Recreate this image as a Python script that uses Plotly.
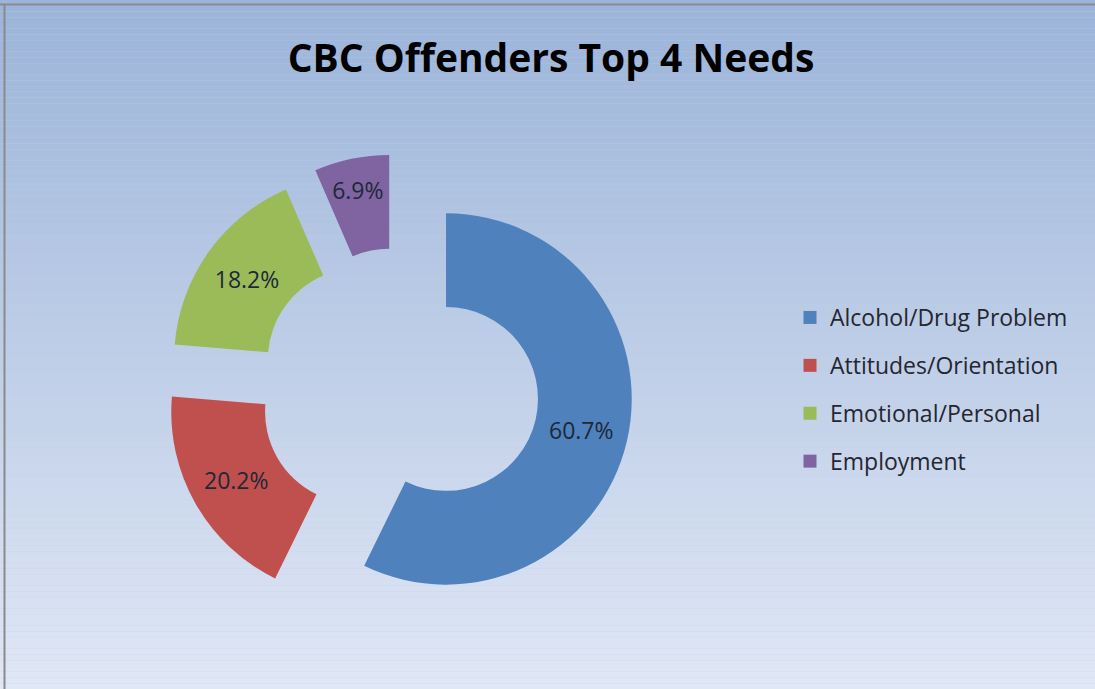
import plotly.graph_objects as go

# ---- data ----
categories = ["Alcohol/Drug Problem", "Attitudes/Orientation", "Emotional/Personal", "Employment"]
values = [60.7, 20.2, 18.2, 6.9]
colors = ["#4f81bd", "#c0504d", "#9bbb59", "#8064a2"]
title_text = "CBC Offenders Top 4 Needs"

W, H = 1095, 689
FONT = "Open Sans, Lato, sans-serif"

fig = go.Figure()

fig.add_trace(go.Pie(
    labels=categories,
    values=values,
    marker=dict(colors=colors, line=dict(width=0)),
    hole=0.495,
    pull=[0.26] * len(values),
    sort=False,
    direction="clockwise",
    rotation=0,
    texttemplate="%{value:.1f}%",
    textposition="inside",
    insidetextorientation="horizontal",
    insidetextfont=dict(family=FONT, size=23, color="#1e2838"),
    domain=dict(x=[165 / W, 633 / W], y=[1 - 622 / H, 1 - 154 / H]),
    showlegend=False,
    hoverinfo="label+value",
))

# legend entries (one group per category to allow row spacing)
for name, col in zip(categories, colors):
    fig.add_trace(go.Scatter(
        x=[None], y=[None], mode="markers", name=name,
        marker=dict(symbol="square", size=13, color=col),
        legendgroup=name, showlegend=True,
    ))

# gradient background bands
n = 120
top = (155, 180, 217)
bot = (224, 231, 245)
shapes = []
for i in range(n):
    t = i / (n - 1)
    c = tuple(round(top[k] + (bot[k] - top[k]) * t) for k in range(3))
    shapes.append(dict(type="rect", xref="paper", yref="paper",
                       x0=0, x1=1, y0=1 - (i + 1) / n, y1=1 - i / n,
                       fillcolor="rgb(%d,%d,%d)" % c, line=dict(width=0), layer="below"))
# border lines (top & left)
shapes.append(dict(type="line", xref="paper", yref="paper", x0=0, x1=1, y0=1 - 4.5 / H, y1=1 - 4.5 / H,
                   line=dict(color="#8a8a8a", width=2), layer="above"))
shapes.append(dict(type="line", xref="paper", yref="paper", x0=4.5 / W, x1=4.5 / W, y0=0, y1=1 - 4.5 / H,
                   line=dict(color="#8a8a8a", width=2), layer="above"))

fig.update_layout(
    width=W, height=H,
    margin=dict(l=0, r=0, t=0, b=0),
    paper_bgcolor="#c0cfe9",
    plot_bgcolor="rgba(0,0,0,0)",
    shapes=shapes,
    title=dict(text="<b>" + title_text + "</b>", x=551 / W, xanchor="center",
               y=1 - 58 / H, yanchor="middle",
               font=dict(family=FONT, size=39, color="#000000")),
    legend=dict(x=790 / W, xanchor="left", y=1 - 296 / H, yanchor="top",
                font=dict(family=FONT, size=23, color="#262630"),
                bgcolor="rgba(0,0,0,0)", tracegroupgap=15),
    xaxis=dict(visible=False),
    yaxis=dict(visible=False),
    font=dict(family=FONT),
)

fig.write_html("out.html", config={"displayModeBar": False})
